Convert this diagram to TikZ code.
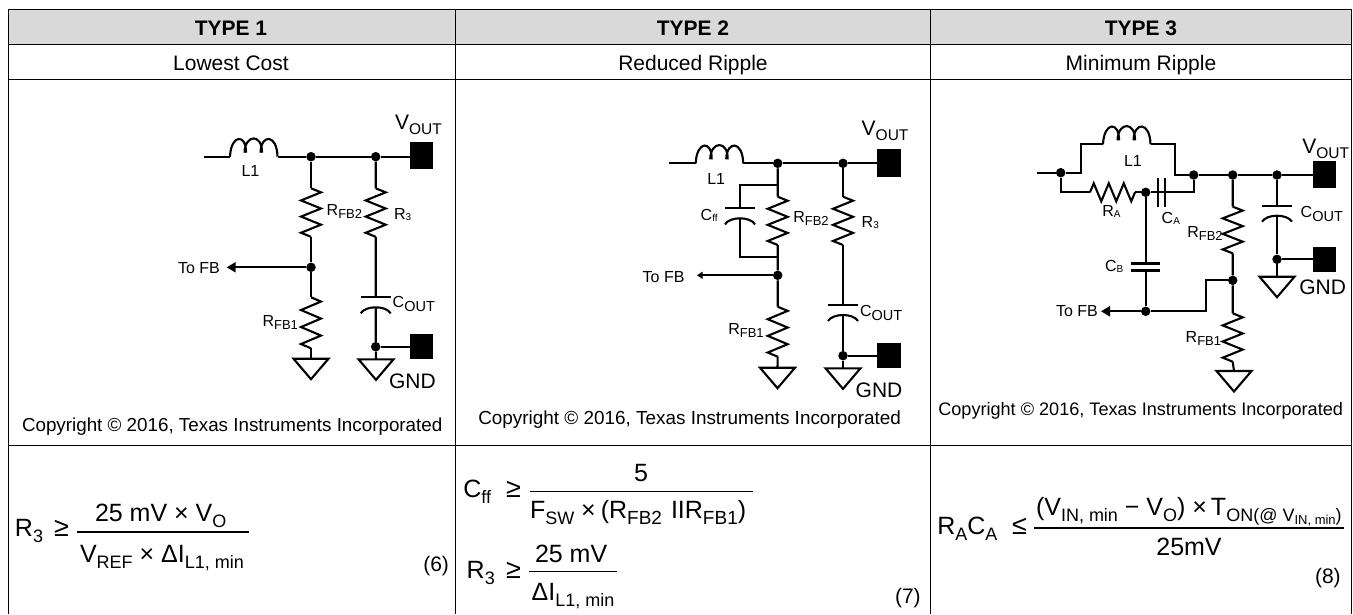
\documentclass[tikz,border=0pt]{standalone}
\usepackage{fontspec}
\setmainfont{Liberation Sans}
\usetikzlibrary{arrows.meta}
\newcommand{\fs}[1]{\fontsize{#1}{#1}\selectfont}
\newcommand{\subt}[3]{\raisebox{-#1pt}{\fs{#2}#3}}
\newcommand{\eqf}{\fs{25}}
\newcommand{\eqs}[1]{\subt{6}{18}{#1}}
\newcommand{\eqb}[1]{\subt{6}{19}{#1}}
\newcommand{\Rfb}[1]{{\fs{16}R\subt{3}{13}{FB#1}}}
\newcommand{\Vout}{{\fs{21}V\subt{5}{15.5}{OUT}}}
\newcommand{\Cout}{{\fs{16}C\subt{4}{14.5}{OUT}}}
\newcommand{\Rthree}{{\fs{16}R\subt{1}{10}{3}}}
\newcommand{\Copy}[1]{{\fs{#1}Copyright © 2016, Texas Instruments Incorporated}}
\tikzset{
  wire/.style={line width=2.1pt,line join=miter},
  rule/.style={line width=0.9pt},
  frac/.style={line width=1.4pt},
  lab/.style={anchor=base west,inner sep=0pt,outer sep=0pt},
  ctr/.style={anchor=base,inner sep=0pt,outer sep=0pt},
  dot/.style={circle,fill=black,inner sep=0pt,minimum size=9.5pt},
  pad/.style={rectangle,fill=black,inner sep=0pt,minimum width=23.5pt,minimum height=#1},
  tip/.style={-{Stealth[length=9pt,width=10pt,inset=0pt]}},
  pics/vres/.style={code={
    \draw[wire] (0,0) coordinate (-t) -- ++(10,#1/12) -- ++(-20,#1/6) -- ++(20,#1/6) -- ++(-20,#1/6) -- ++(20,#1/6) -- ++(-20,#1/6) -- ++(10,#1/12) coordinate (-b);
  }},
  pics/hres/.style={code={
    \draw[wire] (0,0) coordinate (-t) -- ++(#1/12,-9) -- ++(#1/6,18) -- ++(#1/6,-18) -- ++(#1/6,18) -- ++(#1/6,-18) -- ++(#1/6,18) -- ++(#1/12,-9) coordinate (-b);
  }},
  pics/ind/.style={code={
    \draw[wire] (0,0) coordinate (-t) .. controls (1,-23) and (16.5,-23) .. (16,-4)
      (14.5,-4) .. controls (15,-23) and (32.5,-23) .. (32,-4)
      (30.5,-4) .. controls (31,-23) and (47,-23) .. (47.5,0) coordinate (-b);
  }},
  pics/gnd/.style={code={
    \draw[wire] (0,0) coordinate (-t) (-17.5,0) -- (17.5,0) -- (0,20.5) -- cycle;
  }},
  pics/pcap/.style={code={
    \draw[wire] (-15,0) -- (15,0) (0,0) coordinate (-t);
    \draw[wire] (-15,16) .. controls (-10,8) and (10,8) .. (15,16) (0,10) coordinate (-b);
  }},
  pics/ncap/.style={code={
    \draw[wire] (-14.5,0) -- (14.5,0) (0,0) coordinate (-t);
    \draw[wire] (-14.5,7) -- (14.5,7) (0,7) coordinate (-b);
  }},
}
\begin{document}
\begin{tikzpicture}[x=1pt,y=-1pt]
\useasboundingbox (0,0) rectangle (1353,614);
% table
\fill[black!15] (8,9.5) rectangle (1351,44);
\draw[rule] (8,614) -- (8,9.5) -- (1351,9.5) -- (1351,614);
\draw[rule] (455.5,9.5) -- (455.5,614) (930.5,9.5) -- (930.5,614);
\draw[rule] (8,44) -- (1351,44) (8,79.5) -- (1351,79.5) (8,445) -- (1351,445);
\node[ctr] (h1) at (231,35) {\fs{21}\bfseries TYPE 1};
\node[ctr] (h2) at (693,35) {\fs{21}\bfseries TYPE 2};
\node[ctr] (h3) at (1141,35) {\fs{21}\bfseries TYPE 3};
\node[ctr] (s1) at (231,70) {\fs{21}Lowest Cost};
\node[ctr] (s2) at (693,70) {\fs{21}Reduced Ripple};
\node[ctr] (s3) at (1141,70) {\fs{21}Minimum Ripple};

% ---- TYPE 1
\coordinate (a0) at (204,156.7);
\pic (aL) at (230,156.7) {ind};
\node[dot] (aj1) at (311,156.7) {};
\node[dot] (aj2) at (375.7,156.7) {};
\node[pad=27.5pt] (ap1) at (421.7,155.5) {};
\pic (aR2) at (311,188.3) {vres=48.5};
\node[dot] (aj3) at (311,267.3) {};
\pic (aR1) at (311,297.3) {vres=51};
\pic (aG1) at (311,358.7) {gnd};
\pic (aR3) at (375.7,188.3) {vres=48.5};
\pic (aC) at (375.7,297.3) {pcap};
\node[dot] (aj4) at (375.7,346.7) {};
\node[pad=25pt] (ap2) at (421.7,346.8) {};
\pic (aG2) at (376,359.3) {gnd};
\coordinate (aFB) at (226.7,267.3);
\draw[wire] (a0) -- (aL-t) (aL-b) -- (aj1) -- (aj2) -- (aj2 -| ap1.west);
\draw[wire] (aj1) -- (aR2-t) (aR2-b) -- (aj3) -- (aR1-t) (aR1-b) -- (aG1-t);
\draw[wire] (aj2) -- (aR3-t) (aR3-b) -- (aC-t) (aC-b) -- (aj4) -- (aG2-t);
\draw[wire] (aj4) -- (aj4 -| ap2.west);
\draw[wire,tip] (aj3) -- (aFB);
\node[lab] (aV) at (395,129) {\Vout};
\node[lab] (aL1) at (241.5,176.7) {\fs{16}L1};
\node[lab] (aRF2) at (326.7,215) {\Rfb{2}};
\node[lab] (aRR3) at (394,219) {\Rthree};
\node[lab] (aCO) at (392.7,307) {\Cout};
\node[lab] (aRF1) at (262.5,326) {\Rfb{1}};
\node[lab] (aFBt) at (178,273.7) {\fs{16}To FB};
\node[lab] (aGt) at (389,388.5) {\fs{21}GND};
\node[lab] (aCp) at (22,431.7) {\Copy{18.8}};

% ---- TYPE 2
\coordinate (b0) at (669.3,163.3);
\pic (bL) at (695.7,163.3) {ind};
\node[dot] (bj1) at (777.7,163.3) {};
\node[dot] (bj2) at (843,163.3) {};
\node[pad=28pt] (bp1) at (888.9,163.3) {};
\coordinate (bt) at (777.7,185);
\coordinate (bu) at (740,185);
\pic (bC1) at (740,208.3) {pcap};
\coordinate (bv) at (740,257.3);
\coordinate (bw) at (777.7,257.3);
\pic (bR2) at (777.7,196.7) {vres=48.3};
\node[dot] (bj3) at (777.7,275.3) {};
\pic (bR1) at (777.7,306.7) {vres=50};
\pic (bG1) at (777.5,367.7) {gnd};
\pic (bR3) at (843,196.7) {vres=48.3};
\pic (bC) at (843,305) {pcap};
\node[dot] (bj4) at (843,355.7) {};
\node[pad=25pt] (bp2) at (888.9,355.8) {};
\pic (bG2) at (843,368.3) {gnd};
\coordinate (bFB) at (694,275.3);
\draw[wire] (b0) -- (bL-t) (bL-b) -- (bj1) -- (bj2) -- (bj2 -| bp1.west);
\draw[wire] (bj1) -- (bR2-t) (bR2-b) -- (bj3) -- (bR1-t) (bR1-b) -- (bG1-t);
\draw[wire] (bt) -- (bu) -- (bC1-t) (bC1-b) -- (bv) -- (bw);
\draw[wire] (bj2) -- (bR3-t) (bR3-b) -- (bC-t) (bC-b) -- (bj4) -- (bG2-t);
\draw[wire] (bj4) -- (bj4 -| bp2.west);
\draw[wire,-{Triangle[length=5.5pt,width=7pt,sep=3pt]}] (bj3) -- (bFB);
\node[lab] (bV) at (861.7,135) {\Vout};
\node[lab] (bL1) at (707.3,184) {\fs{16}L1};
\node[lab] (bCf) at (700.7,220) {\fs{16}C\subt{1}{10}{ff}};
\node[lab] (bRF2) at (793.3,222.7) {\Rfb{2}};
\node[lab] (bRR3) at (861.7,227.3) {\Rthree};
\node[lab] (bCO) at (860,316) {\Cout};
\node[lab] (bRF1) at (728.3,334) {\Rfb{1}};
\node[lab] (bFBt) at (642.7,282.7) {\fs{16}To FB};
\node[lab] (bGt) at (855.7,397.3) {\fs{21}GND};
\node[lab] (bCp) at (478.3,424) {\Copy{18.9}};

% ---- TYPE 3
\coordinate (c0) at (1036.7,172.7);
\node[dot] (cj0) at (1060.7,172.7) {};
\coordinate (cu1) at (1081,172.7);
\coordinate (cu2) at (1081,144.3);
\pic (cL) at (1103,144.3) {ind};
\coordinate (cu3) at (1175,144.3);
\coordinate (cu4) at (1175,175);
\node[dot] (cj1) at (1193.7,175) {};
\node[dot] (cj2) at (1232.7,175) {};
\node[dot] (cj3) at (1277,175) {};
\node[pad=27pt] (cp1) at (1324.7,174) {};
\coordinate (cl1) at (1060.7,192.3);
\pic (cRA) at (1090,192.3) {hres=45};
\node[dot] (cj4) at (1145.7,192.3) {};
\pic[rotate=-90] (cCA) at (1165,192.3) {ncap};
\coordinate (cl2) at (1193.7,192.3);
\pic (cCB) at (1145.7,263.5) {ncap};
\node[dot] (cj5) at (1145.7,311.3) {};
\coordinate (cFB) at (1101,311.3);
\coordinate (cm1) at (1205.7,311.3);
\coordinate (cm2) at (1205.7,280.3);
\node[dot] (cj6) at (1232.7,280.3) {};
\pic (cR2) at (1232.7,206.7) {vres=46.6};
\pic (cR1) at (1232.7,313.3) {vres=48.4};
\pic (cG1) at (1234,371) {gnd};
\pic (cC) at (1277,205.7) {pcap};
\node[dot] (cj7) at (1277,259.3) {};
\node[pad=24.4pt] (cp2) at (1324.7,259.5) {};
\pic (cG2) at (1277,276.7) {gnd};
\draw[wire] (c0) -- (cj0) -- (cu1) -- (cu2) -- (cL-t) (cL-b) -- (cu3) -- (cu4) -- (cj1) -- (cj2) -- (cj3) -- (cj3 -| cp1.west);
\draw[wire] (cj0) -- (cl1) -- (cRA-t) (cRA-b) -- (cj4) -- (cCA-t) (cCA-b) -- (cl2) -- (cj1);
\draw[wire] (cj4) -- (cCB-t) (cCB-b) -- (cj5);
\draw[wire,tip] (cj5) -- (cFB);
\draw[wire] (cj5) -- (cm1) -- (cm2) -- (cj6);
\draw[wire] (cj2) -- (cR2-t) (cR2-b) -- (cj6) -- (cR1-t) (cR1-b) -- (cG1-t);
\draw[wire] (cj3) -- (cC-t) (cC-b) -- (cj7) -- (cG2-t);
\draw[wire] (cj7) -- (cj7 -| cp2.west);
\node[lab] (cV) at (1302.3,153.3) {\Vout};
\node[lab] (cL1) at (1124,166.7) {\fs{16}L1};
\node[lab] (cRAt) at (1102.3,216) {\fs{16}R\subt{1.5}{10}{A}};
\node[lab] (cCAt) at (1161.7,223.3) {\fs{16}C\subt{1.5}{10}{A}};
\node[lab] (cRF2) at (1187.3,237.7) {\Rfb{2}};
\node[lab] (cCO) at (1300.7,217.3) {\Cout};
\node[lab] (cCBt) at (1105,271) {\fs{16}C\subt{1.5}{10}{B}};
\node[lab] (cGt) at (1299.3,294) {\fs{21}GND};
\node[lab] (cFBt) at (1056,316.7) {\fs{16}To FB};
\node[lab] (cRF1) at (1185.7,342.7) {\Rfb{1}};
\node[lab] (cCp) at (938.3,415) {\Copy{18.1}};

% ---- equations
\draw[frac] (77.3,532) -- (248.7,532);
\node[lab] (e1a) at (15,536.7) {\eqf R\eqs{3}};
\node[lab] (e1b) at (54,536.7) {\fs{27}≥};
\node[lab] (e1c) at (95,521.7) {\eqf 25 mV × V\eqs{O}};
\node[lab] (e1d) at (80,562.7) {\eqf V\eqs{REF} × ΔI\eqs{L1, min}};
\node[lab] (e1e) at (423.3,571.7) {\fs{21}(6)};

\draw[frac] (530,491.7) -- (753.3,491.7);
\node[lab] (e2a) at (463.3,497.3) {\eqf C\eqs{ff}};
\node[lab] (e2b) at (506,497.3) {\fs{27}≥};
\node[ctr] (e2c) at (641,481.7) {\eqf 5};
\node[lab] (e2d) at (530,518.3) {\eqf F\eqs{SW} ×\hspace{5pt}(R\eqb{FB2}\hspace{9pt}IIR\eqb{FB1})};
\draw[frac] (529.3,571.7) -- (616.7,571.7);
\node[lab] (e3a) at (466.7,578.3) {\eqf R\eqs{3}};
\node[lab] (e3b) at (506,578.3) {\fs{27}≥};
\node[lab] (e3c) at (535,562.7) {\eqf 25 mV};
\node[lab] (e3d) at (531.7,600) {\eqf ΔI\eqs{L1, min}};
\node[lab] (e3e) at (895,603.3) {\fs{21}(7)};

\draw[frac] (1034,528) -- (1344,528);
\node[lab] (e4a) at (937.3,534) {\eqf R\eqs{A}C\eqs{A}};
\node[lab] (e4b) at (1012,534) {\fs{27}≤};
\node[lab] (e4c) at (1036,515) {\eqf (V\eqs{IN, min} − V\eqs{O}) ×\hspace{-3pt} T\eqs{ON(@ V\subt{3}{13}{IN, min})}};
\node[ctr] (e4d) at (1189,555) {\eqf 25mV};
\node[lab] (e4e) at (1315,583.3) {\fs{21}(8)};
\end{tikzpicture}
\end{document}
